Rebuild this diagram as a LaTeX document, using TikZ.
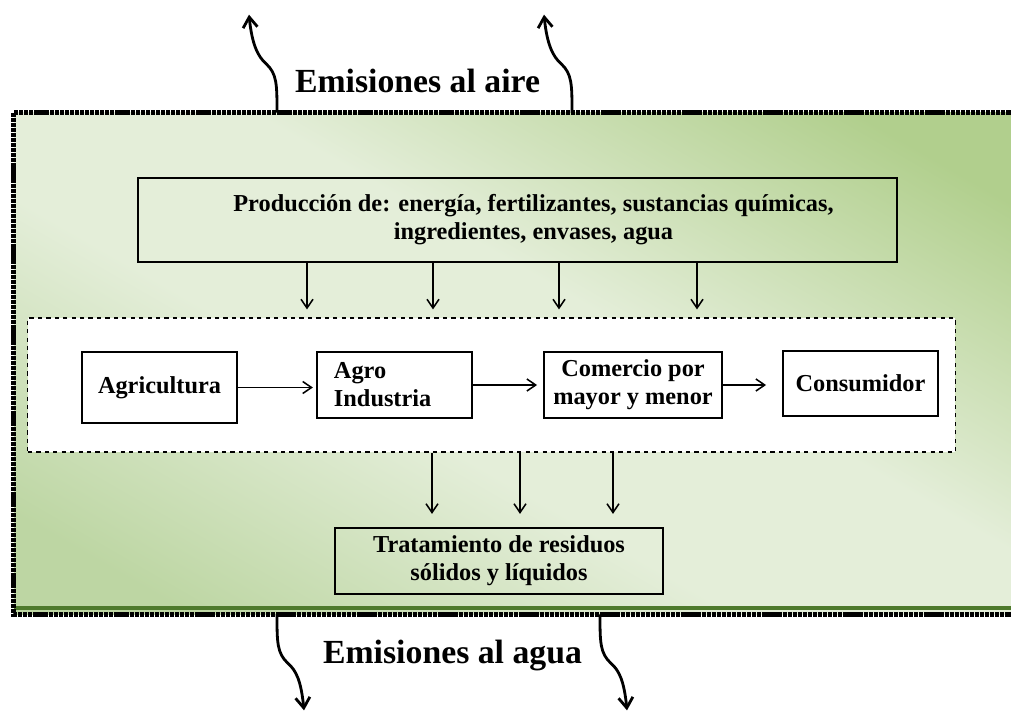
\documentclass[tikz,border=0pt]{standalone}
\usepackage{fontspec}
\setmainfont{Liberation Serif}
\usetikzlibrary{arrows.meta}
\usetikzlibrary{positioning}
\tikzset{>={Straight Barb[length=2.2mm,width=3mm]}}
\definecolor{verdeclaro}{HTML}{E4EED9}
\definecolor{verdemedio}{HTML}{BDD6A3}
\definecolor{verdeoscuro}{HTML}{B1CF8D}
\definecolor{verdeborde}{HTML}{4E7A2C}
\pgfdeclarehorizontalshading{fondoverde}{100bp}{color(0bp)=(verdemedio); color(22bp)=(verdemedio); color(42bp)=(verdeclaro); color(56bp)=(verdeclaro); color(78bp)=(verdeoscuro); color(100bp)=(verdeoscuro)}
\tikzset{
    caja/.style={draw, line width=1.3pt, font=\bfseries\fontsize{17.3}{20}\selectfont, align=center, inner sep=0pt},
    flecha/.style={->, line width=1.1pt},
    emision/.style={->, line width=2pt, >={Straight Barb[length=2.6mm,width=3.6mm]}},
    titulo/.style={font=\bfseries\fontsize{24}{28}\selectfont},
}

\begin{document}
\begin{tikzpicture}[x=0.025cm, y=-0.025cm]
	\useasboundingbox (0,0) rectangle (1011,713);
	\clip (0,0) rectangle (1011,713);
	% marco verde
	\node[shading=fondoverde, shading angle=60, minimum width=25.4cm, minimum height=12.525cm, inner sep=0pt] (marco) at (522,363.5) {};
	\draw[verdeborde, line width=3pt] ([yshift=0.16cm]marco.south west) -- ([yshift=0.16cm]marco.south east);
	\draw[line width=3.4pt, dash pattern=on 3pt off 0.6pt] (marco.north west) rectangle (marco.south east);
	
	\node[caja, minimum width=18.975cm, minimum height=2.1cm] (prod) at (517.5,220) {\hspace*{0.8cm}Producción de: energía, fertilizantes, sustancias químicas,\\ \hspace*{0.8cm}ingredientes, envases, agua};
	\node[draw, dashed, fill=white, line width=0.8pt, minimum width=23.175cm, minimum height=3.35cm] (cadena) at (491.5,385) {};
	
	\node[caja, minimum width=3.875cm, minimum height=1.775cm] (agri) at (159.5,387.5) {Agricultura};
	\node[caja, align=left, text width=3.025cm, inner xsep=0.425cm, minimum height=1.65cm] (agro) at (394.5,385) {Agro\\ Industria};
	\node[caja, minimum width=4.45cm, minimum height=1.65cm] (com) at (633,385) {Comercio por\\ mayor y menor};
	\node[caja, minimum width=3.875cm, minimum height=1.625cm] (cons) at (860.5,383.5) {Consumidor};
	\node[caja, minimum width=8.2cm, minimum height=1.65cm] (trat) at (499,561) {Tratamiento de residuos\\ sólidos y líquidos};
	
	\foreach \x in {307,433,559,697}
		\draw[flecha, shorten >=0.2cm] (\x,0 |- prod.south) -- (\x,0 |- cadena.north);
	\foreach \x in {432,520,613}
		\draw[flecha, shorten >=0.33cm] (\x,0 |- cadena.south) -- (\x,0 |- trat.north);
	\draw[flecha, shorten >=0.08cm] (agri.east) -- (agri.east -| agro.west);
	\draw[flecha, shorten >=0.15cm] (agro.east) -- (agro.east -| com.west);
	\draw[flecha, shorten >=0.4cm] (com.east) -- (com.east -| cons.west);
	
	% emisiones
	\coordinate (aire1) at (277,0 |- marco.north);
	\coordinate (aire2) at (572,0 |- marco.north);
	\coordinate (agua1) at (277,0 |- marco.south);
	\coordinate (agua2) at (600,0 |- marco.south);
	\foreach \c in {aire1,aire2}
		\draw[emision] (\c) .. controls +(0,-28) and +(11,10) .. ++(-11,-49) .. controls +(-8,-7) and +(3,30) .. ++(-17,-49);
	\foreach \c in {agua1,agua2}
		\draw[emision] (\c) .. controls +(0,28) and +(-11,-10) .. ++(11,49) .. controls +(8,7) and +(-3,-30) .. ++(16,47);
	\node[titulo, anchor=base] (aire) at (417.5,92) {Emisiones al aire};
	\node[titulo, anchor=base] (agua) at (452.5,663) {Emisiones al agua};
\end{tikzpicture}
\end{document}
